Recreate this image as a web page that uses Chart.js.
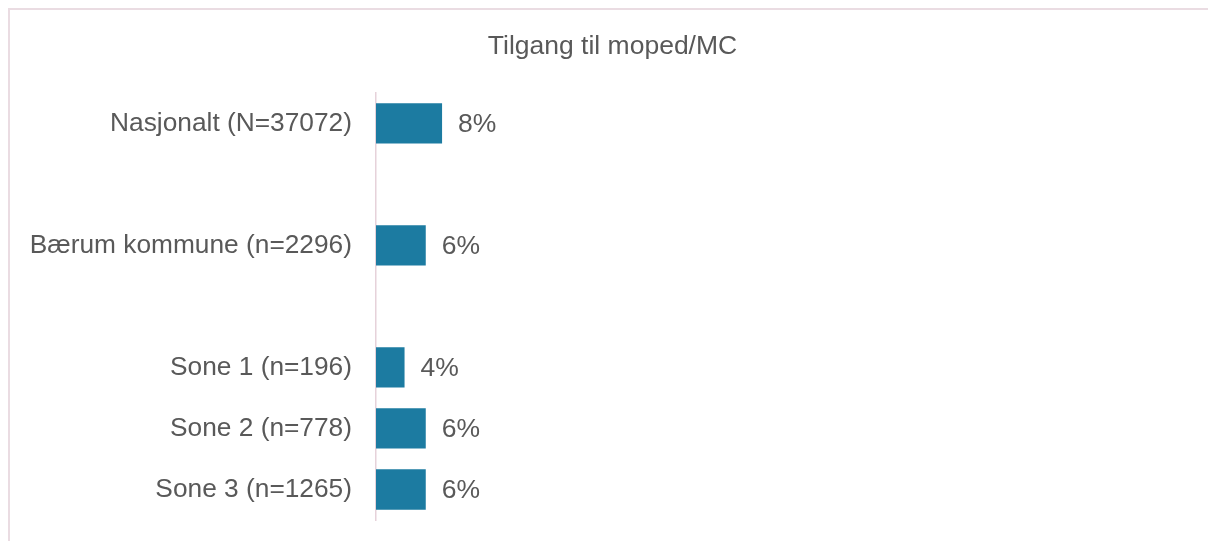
<!DOCTYPE html>
<html>
<head>
<meta charset="utf-8">
<script src="https://cdn.jsdelivr.net/npm/chart.js@4/dist/chart.umd.min.js"></script>
<style>
  html, body { margin: 0; padding: 0; background: #fff; }
  #frame {
    position: absolute; left: 8px; top: 8px; width: 1220px; height: 560px;
    border-left: 2px solid #EADCE2; border-top: 2px solid #EADCE2;
  }
  #canvas { position: absolute; left: 0; top: 0; }
</style>
</head>
<body>
<div id="frame"></div>
<canvas id="canvas" width="1208" height="541"></canvas>
<script>
// data
const categories = ['Nasjonalt (N=37072)', '', 'Bærum kommune (n=2296)', '', 'Sone 1 (n=196)', 'Sone 2 (n=778)', 'Sone 3 (n=1265)'];
const shares = [0.081, null, 0.061, null, 0.035, 0.061, 0.061];
const chartTitle = 'Tilgang til moped/MC';

const textColor = '#595959';
const fontFamily = "'Liberation Sans', Arial, sans-serif";

// value labels to the right of each bar
const barLabels = {
  id: 'barLabels',
  afterDatasetsDraw(chart) {
    const ctx = chart.ctx;
    const meta = chart.getDatasetMeta(0);
    ctx.save();
    ctx.font = '26.5px ' + fontFamily;
    ctx.fillStyle = textColor;
    ctx.textAlign = 'left';
    ctx.textBaseline = 'middle';
    meta.data.forEach(function (bar, i) {
      const v = shares[i];
      if (v === null) return;
      ctx.fillText(Math.round(v * 100) + '%', bar.x + 16, bar.y + 1);
    });
    ctx.restore();
  }
};

const config = {
  type: 'bar',
  data: {
    labels: categories,
    datasets: [{
      data: shares,
      backgroundColor: '#1C7BA1',
      barPercentage: 0.66,
      categoryPercentage: 1
    }]
  },
  options: {
    indexAxis: 'y',
    responsive: false,
    animation: false,
    layout: { padding: { left: 17, right: 0, top: 0, bottom: 21 } },
    plugins: {
      legend: { display: false },
      tooltip: { enabled: false },
      title: {
        display: true,
        text: chartTitle,
        color: textColor,
        font: { family: fontFamily, size: 26.5, weight: 'normal' },
        padding: { top: 31, bottom: 30 }
      }
    },
    scales: {
      x: { display: false, min: 0, max: 1.02 },
      y: {
        afterFit(scale) {
          scale.width = 359;
          scale.paddingTop = 0;
          scale.paddingBottom = 0;
        },
        grid: { display: false, drawTicks: false },
        border: { display: true, color: '#E6D2DA', width: 1.5 },
        ticks: {
          autoSkip: false,
          padding: 24,
          color: textColor,
          font: { family: fontFamily, size: 26.3 }
        }
      }
    }
  },
  plugins: [barLabels]
};

let myChart = new Chart(document.getElementById('canvas'), config);
</script>
</body>
</html>
